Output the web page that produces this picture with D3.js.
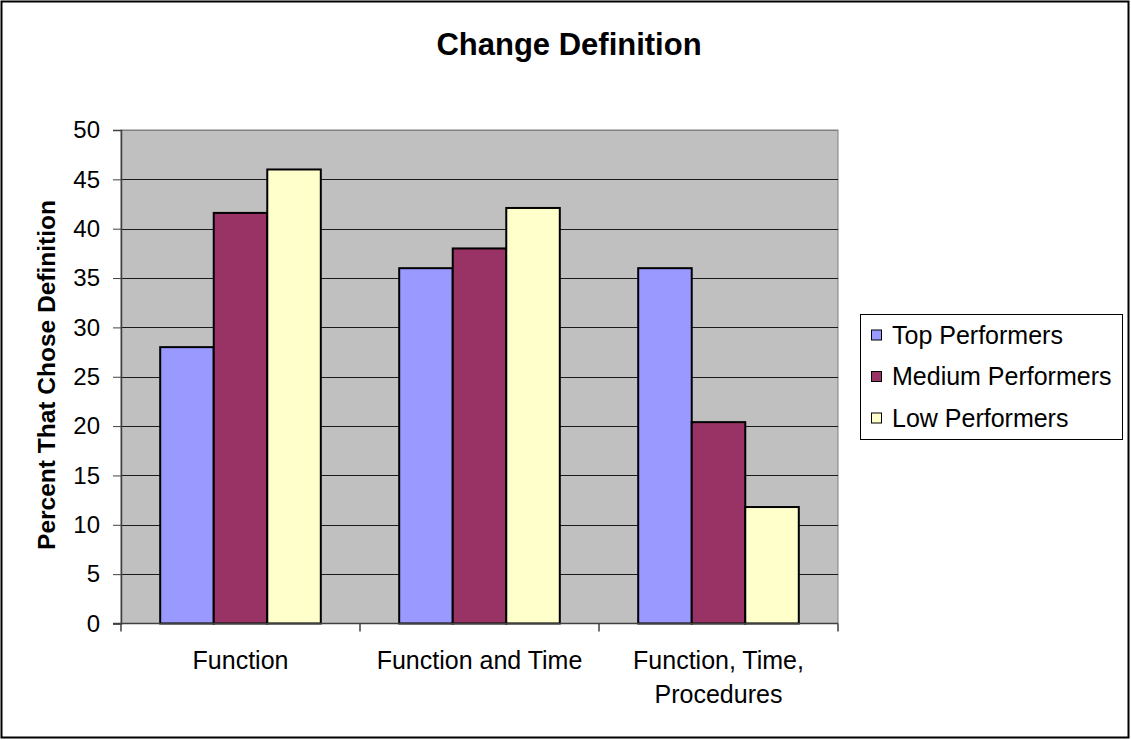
<!DOCTYPE html>
<html>
<head>
<meta charset="utf-8">
<script src="https://cdn.jsdelivr.net/npm/d3@7"></script>
<style>
  html, body { margin: 0; padding: 0; background: #fff; }
  svg { display: block; font-family: "Liberation Sans", Arial, sans-serif; }
</style>
</head>
<body>
<svg id="chart" width="1131" height="740"></svg>
<script>
// Chart data
const categories = ["Function", "Function and Time", "Function, Time, Procedures"];
const categoryLines = [["Function"], ["Function and Time"], ["Function, Time,", "Procedures"]];
const seriesNames = ["Top Performers", "Medium Performers", "Low Performers"];
const topPerformers = [28, 36, 36];
const mediumPerformers = [41.6, 38, 20.4];
const lowPerformers = [46, 42.1, 11.8];
const yTicks = [0, 5, 10, 15, 20, 25, 30, 35, 40, 45, 50];
const seriesColors = ["#9999FF", "#993366", "#FFFFCC"];

const seriesValues = [topPerformers, mediumPerformers, lowPerformers];

const svg = d3.select("#chart");
const W = 1131, H = 740;

// Outer frame
svg.append("rect").attr("x", 1.5).attr("y", 1.5).attr("width", W - 4).attr("height", H - 4)
  .attr("fill", "#fff").attr("stroke", "#000").attr("stroke-width", 2);

const plot = { left: 121, right: 838, top: 130, bottom: 623.5 };

const x = d3.scaleBand().domain(categories).range([plot.left, plot.right]).padding(0);
const groupFrac = 0.672;
const xInner = d3.scaleBand().domain(seriesNames)
  .range([0, x.bandwidth() * groupFrac]).padding(0);
const y = d3.scaleLinear().domain([0, 50]).range([plot.bottom, plot.top]);

// Plot background
svg.append("rect").attr("x", plot.left).attr("y", plot.top)
  .attr("width", plot.right - plot.left).attr("height", plot.bottom - plot.top)
  .attr("fill", "#C0C0C0").attr("stroke", "#808080").attr("stroke-width", 1);

// Gridlines
svg.append("g").selectAll("line").data(yTicks.filter(t => t > 0)).join("line")
  .attr("x1", plot.left).attr("x2", plot.right)
  .attr("y1", d => Math.round(y(d)) + 0.5).attr("y2", d => Math.round(y(d)) + 0.5)
  .attr("stroke", d => d === 50 ? "#808080" : "#1a1a1a").attr("stroke-width", 1);

// Bars
const groups = svg.append("g").selectAll("g").data(categories).join("g")
  .attr("transform", c => `translate(${x(c) + x.bandwidth() * (1 - groupFrac) / 2},0)`);

groups.selectAll("rect").data((c, ci) => seriesNames.map((s, si) => ({ s, si, v: seriesValues[si][ci] })))
  .join("rect")
  .attr("x", d => xInner(d.s))
  .attr("y", d => y(d.v))
  .attr("width", xInner.bandwidth())
  .attr("height", d => plot.bottom - y(d.v))
  .attr("fill", d => seriesColors[d.si])
  .attr("stroke", "#000").attr("stroke-width", 2);

// Y axis
const yAxis = d3.axisLeft(y).tickValues(yTicks).tickSize(8).tickPadding(13);
const gy = svg.append("g").attr("transform", `translate(${plot.left},0)`).call(yAxis);
gy.select(".domain").attr("stroke", "#404040").attr("stroke-width", 1.5);
gy.selectAll(".tick line").attr("stroke", "#404040");
gy.selectAll(".tick text").attr("font-size", 24).attr("fill", "#000")
  .attr("font-family", "Liberation Sans, Arial, sans-serif");

// X axis
svg.append("line").attr("x1", plot.left - 8).attr("x2", plot.right)
  .attr("y1", plot.bottom).attr("y2", plot.bottom).attr("stroke", "#404040").attr("stroke-width", 1.5);
const boundaries = categories.map(c => x(c)).concat([plot.right]);
svg.append("g").selectAll("line").data(boundaries).join("line")
  .attr("x1", d => d).attr("x2", d => d)
  .attr("y1", plot.bottom).attr("y2", plot.bottom + 8)
  .attr("stroke", "#404040").attr("stroke-width", 1.5);

const xl = svg.append("g").selectAll("text").data(categories).join("text")
  .attr("x", c => x(c) + x.bandwidth() / 2)
  .attr("y", 669)
  .attr("text-anchor", "middle").attr("font-size", 25).attr("fill", "#000");
xl.each(function (c, i) {
  d3.select(this).selectAll("tspan").data(categoryLines[i]).join("tspan")
    .attr("x", x(c) + x.bandwidth() / 2)
    .attr("dy", (d, j) => j === 0 ? 0 : 34)
    .text(d => d);
});

// Title
svg.append("text").attr("x", 569).attr("y", 55).attr("text-anchor", "middle")
  .attr("font-size", 31).attr("font-weight", "bold").text("Change Definition");

// Y axis title
svg.append("text").attr("transform", "translate(55,375) rotate(-90)")
  .attr("text-anchor", "middle").attr("font-size", 24.5).attr("font-weight", "bold")
  .text("Percent That Chose Definition");

// Legend
const lg = svg.append("g");
lg.append("rect").attr("x", 860.5).attr("y", 314.5).attr("width", 262).attr("height", 125)
  .attr("fill", "#fff").attr("stroke", "#000").attr("stroke-width", 1);
const rows = lg.selectAll("g").data(seriesNames).join("g")
  .attr("transform", (d, i) => `translate(871,${335 + i * 41.5})`);
rows.append("rect").attr("x", 0.5).attr("y", -5).attr("width", 10).attr("height", 10)
  .attr("fill", (d, i) => seriesColors[i]).attr("stroke", "#000").attr("stroke-width", 1);
rows.append("text").attr("x", 21).attr("y", 8.5).attr("font-size", 25).text(d => d);
</script>
</body>
</html>
